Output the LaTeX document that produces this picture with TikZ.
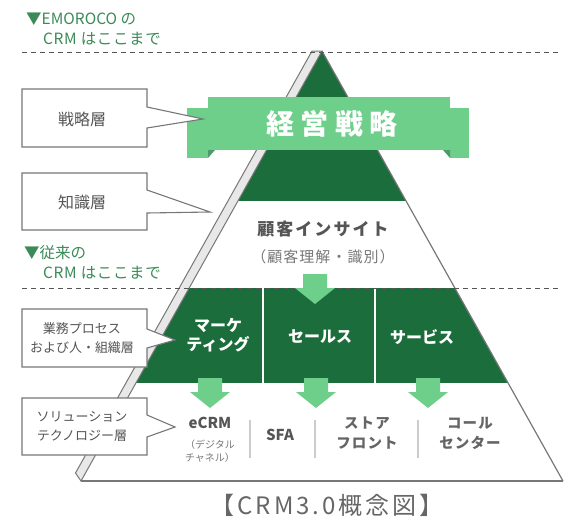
\documentclass[tikz,border=0pt]{standalone}
\usepackage{fontspec}
\setmainfont{Noto Sans CJK JP}
\definecolor{dgreen}{HTML}{1B6E3C}
\definecolor{lgreen}{HTML}{6DCF8A}
\definecolor{foldgreen}{HTML}{4F9A6A}
\definecolor{labgreen}{HTML}{3B8A57}
\definecolor{edgegray}{HTML}{777777}
\definecolor{stripgray}{HTML}{E8E8E8}
\definecolor{txtgray}{HTML}{555555}
\definecolor{lighttxt}{HTML}{777777}
\definecolor{sepgray}{HTML}{CCCCCC}
\begin{document}
\begin{tikzpicture}[x=1pt,y=-1pt,
  txt/.style={inner sep=0pt,align=center},
  labtxt/.style={txt,anchor=west,text=labgreen,font=\fontsize{15.5}{17}\selectfont},
  callout/.style={fill=white,draw=edgegray,line width=1.1pt,line join=miter},
  calltxt/.style={txt,text=txtgray,font=\fontsize{13}{19}\selectfont},
  bigcalltxt/.style={txt,text=txtgray,font=\fontsize{16}{18}\selectfont},
  dashline/.style={draw=txtgray,line width=0.9pt,dash pattern=on 5pt off 4pt},
  coltxt/.style={txt,text=white,font=\bfseries\fontsize{16}{19}\selectfont},
  soltxt/.style={txt,text=txtgray,font=\bfseries\fontsize{15}{20}\selectfont},
  kanatxt/.style={txt,text=lighttxt!85!black,font=\bfseries\fontsize{14.5}{20}\selectfont\addfontfeature{LetterSpace=8}},
  septxt/.style={draw=sepgray,line width=1.2pt},
  downarr/.pic={\fill[lgreen] (-12,0) -- (12,0) -- (12,14) -- (20,14) -- (0,30) -- (-20,14) -- (-12,14) -- cycle;}
]
\useasboundingbox (0,0) rectangle (578,530);
\coordinate (A) at (322,51);
\coordinate (L) at (81,481);
\coordinate (R) at (563,481);
% pyramid sections
\begin{scope}
  \clip (A) -- (L) -- (R) -- cycle;
  \fill[dgreen] (0,40) rectangle (578,201);
  \fill[dgreen] (0,288) rectangle (578,383);
\end{scope}
\draw[white,line width=2pt] (263,288) -- (263,383);
\draw[white,line width=2pt] (375,288) -- (375,383);
% left strip and outline
\filldraw[fill=stripgray,draw=edgegray,line width=1pt,line join=miter] (312,51) -- (A) -- (L) -- (75.5,473) -- cycle;
\draw[edgegray,line width=1.2pt] (A) -- (R);
\draw[edgegray,line width=1.8pt] (R) -- (L);
% dashed boundaries
\coordinate (d1a) at (22,52); \coordinate (d1b) at (558,52);
\coordinate (d2a) at (22,288); \coordinate (d2b) at (558,288);
\draw[dashline] (d1a) -- (d1b);
\draw[dashline] (d2a) -- (d2b);
% labels
\node[labtxt] (emo1) at (26,19) {▼EMOROCO の};
\node[labtxt,font=\fontsize{15.5}{17}\selectfont\addfontfeature{LetterSpace=4}] (emo2) at (43,39) {CRM はここまで};
\node[labtxt] (old1) at (24,253) {▼従来の};
\node[labtxt,font=\fontsize{15.5}{17}\selectfont\addfontfeature{LetterSpace=4}] (old2) at (43,273) {CRM はここまで};
% ribbon
\fill[lgreen] (187,108) rectangle (208,158);
\fill[lgreen] (450,108) rectangle (469,158);
\fill[foldgreen] (208,150) -- (215,150) -- (208,158) -- cycle;
\fill[foldgreen] (450,150) -- (443,150) -- (450,158) -- cycle;
\fill[lgreen] (208,97) rectangle (450,150);
\node[txt,text=white,font=\bfseries\fontsize{28}{30}\selectfont\addfontfeature{LetterSpace=22}] (keiei) at (332,124) {経営戦略};
% insight
\node[txt,text=txtgray,font=\bfseries\fontsize{17}{20}\selectfont\addfontfeature{LetterSpace=12}] (insight) at (323,229) {顧客インサイト};
\node[txt,text=lighttxt,font=\fontsize{15}{18}\selectfont\addfontfeature{LetterSpace=7}] (insight2) at (323,257) {（顧客理解・識別）};
% arrows
\pic at (315,274) {downarr};
\pic at (210,378) {downarr};
\pic at (316,378) {downarr};
\pic at (428,378) {downarr};
% column texts
\node[coltxt] (mk) at (218,335) {マーケ\\ティング};
\node[coltxt] (sales) at (320,337) {セールス};
\node[coltxt] (serv) at (422,337) {サービス};
% solution texts
\node[soltxt] (ecrm) at (210,423) {eCRM};
\node[txt,text=lighttxt,font=\fontsize{10}{13}\selectfont] (digi) at (210,451) {（デジタル\\チャネル）};
\node[soltxt] (sfa) at (280,435) {SFA};
\node[kanatxt] (store) at (367,433) {ストア\\フロント};
\node[kanatxt] (call) at (470,433) {コール\\センター};
\draw[septxt] (250,420) -- (250,458);
\draw[septxt] (315,420) -- (315,458);
\draw[septxt] (418,420) -- (418,458);
% callouts
\filldraw[callout] (22,89) -- (147,89) -- (147,107) -- (203,119) -- (147,128) -- (147,147) -- (22,147) -- cycle;
\node[bigcalltxt] (senryaku) at (82,119) {戦略層};
\filldraw[callout] (22,173) -- (147,173) -- (147,190) -- (210,212) -- (147,213) -- (147,230) -- (22,230) -- cycle;
\node[bigcalltxt] (chishiki) at (82,202) {知識層};
\filldraw[callout] (22,309) -- (147,309) -- (147,329) -- (175,340) -- (147,348) -- (147,367) -- (22,367) -- cycle;
\node[calltxt] (gyomu) at (82,338) {業務プロセス\\および人・組織層};
\filldraw[callout] (22,398) -- (147,398) -- (147,415) -- (175,427) -- (147,437) -- (147,455) -- (22,455) -- cycle;
\node[calltxt] (sol) at (82,427) {ソリューション\\テクノロジー層};
% caption
\node[txt,text=txtgray!90!white,font=\fontsize{24}{26}\selectfont\addfontfeature{LetterSpace=12}] (cap) at (327,505) {【CRM3.0概念図】};
\end{tikzpicture}
\end{document}
